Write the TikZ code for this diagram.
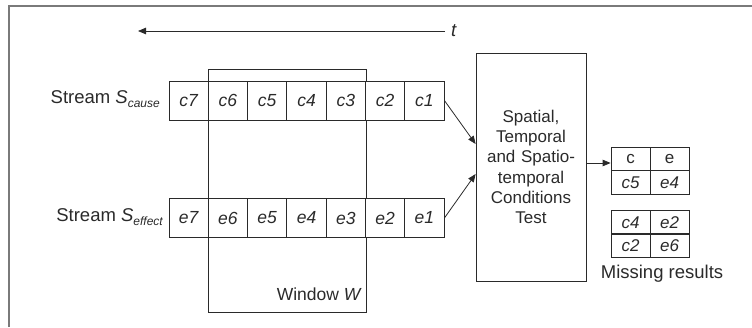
\documentclass[tikz,border=0pt]{standalone}
\usepackage{fontspec}
\setmainfont{Liberation Sans}
\usetikzlibrary{arrows.meta,positioning}

\definecolor{ink}{HTML}{2A2A2A}
\definecolor{framegray}{HTML}{7A7A7A}

\tikzset{
  line/.style={draw=ink, line width=0.8pt},
  cell/.style={line, fill=white, minimum width=39.29pt, minimum height=39pt,
    inner sep=0pt, font=\fontsize{17.5}{17.5}\selectfont\itshape, text=ink},
  rescell/.style={line, minimum width=39pt, minimum height=23.5pt,
    inner sep=0pt, font=\fontsize{17}{17}\selectfont\itshape, text=ink},
  lbl/.style={inner sep=0pt, font=\fontsize{17}{17}\selectfont, text=ink},
  flow/.style={line, -{Triangle[length=8pt,width=6.5pt]}},
}

\newcommand{\streamlabel}[1]{Stream \textit{S}\raisebox{-0.35ex}{\fontsize{12}{12}\selectfont\itshape #1}}

\begin{document}
\begin{tikzpicture}[x=1pt,y=-1pt]
  \useasboundingbox (0,0) rectangle (752,327);

  % outer frame (open to the right and bottom)
  \draw[framegray, line width=1.6pt] (9,327) -- (9,6) -- (752,6);

  % time axis
  \coordinate (tstart) at (445,31);
  \coordinate (tend) at (138,31);
  \draw[flow] (tstart) -- (tend);
  \node[lbl, anchor=west, font=\fontsize{18.5}{18.5}\selectfont\itshape] (tlabel) at (451,31) {t};

  % sliding window
  \node[line, minimum width=158pt, minimum height=243pt, inner sep=0pt]
    (window) at (287.6,190.5) {};
  \node[lbl, anchor=east, font=\fontsize{17.5}{17.5}\selectfont] (wlabel) at (362,294) {Window \textit{W}};

  % cause and effect streams
  \foreach \i [count=\k from 0] in {7,6,5,4,3,2,1} {
    \node[cell] (c\i) at ({188.64+\k*39.29},100.5) {c\i};
    \node[cell] (e\i) at ({188.64+\k*39.29},218) {e\i};
  }

  \node[lbl, anchor=east, font=\fontsize{18.5}{18.5}\selectfont] (slc) at (160,99) {\streamlabel{cause}};
  \node[lbl, anchor=east, font=\fontsize{18.5}{18.5}\selectfont] (sle) at (163,217) {\streamlabel{effect}};

  % condition test
  \node[line, minimum width=110pt, minimum height=228pt, inner sep=0pt,
        text width=106pt, align=center, text=ink,
        font=\fontsize{17}{20.3}\selectfont] (test) at (531,167)
    {Spatial,\\Temporal\\and Spatio-\\temporal\\Conditions\\Test};

  \draw[flow] (c1.east) -- ([yshift=23pt]test.west);
  \draw[flow] (e1.east) -- ([yshift=-7pt]test.west);

  % result tables
  \node[rescell, font=\fontsize{17}{17}\selectfont] (rc) at (630.5,159) {c};
  \node[rescell, font=\fontsize{17}{17}\selectfont] (re) at (669.5,159) {e};
  \node[rescell] (r1c) at (630.5,182.5) {c5};
  \node[rescell] (r1e) at (669.5,182.5) {e4};
  \node[rescell] (r2c) at (630.5,222.5) {c4};
  \node[rescell] (r2e) at (669.5,222.5) {e2};
  \node[rescell] (r3c) at (630.5,245.5) {c2};
  \node[rescell] (r3e) at (669.5,245.5) {e6};

  \draw[flow] ([yshift=4pt]test.east) -- ([yshift=-4pt]rc.west);

  \node[lbl, font=\fontsize{18.5}{18.5}\selectfont] (missing) at (662,274) {Missing results};
\end{tikzpicture}
\end{document}
